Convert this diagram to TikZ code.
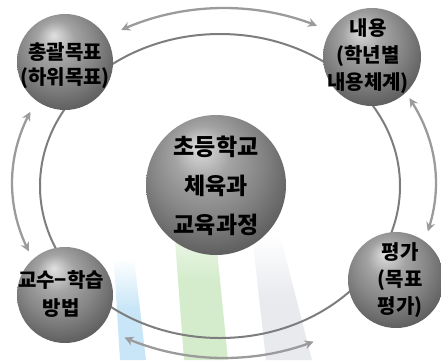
\documentclass[tikz,border=0pt]{standalone}
\usepackage{fontspec}
\setmainfont{Noto Sans CJK KR}
\usetikzlibrary{arrows.meta}
\definecolor{arrgray}{RGB}{155,155,155}
\definecolor{ringgray}{RGB}{125,125,125}
\definecolor{wblue}{RGB}{200,230,247}
\definecolor{wgreen}{RGB}{212,236,203}
\definecolor{wgray}{RGB}{232,234,238}
\pgfdeclareradialshading{softball}{\pgfpoint{-6bp}{14bp}}{%
  color(0bp)=(black!12); color(10bp)=(black!36); color(20bp)=(black!48);
  color(30bp)=(black!62); color(40bp)=(black!72); color(50bp)=(black!72)}
\begin{document}
\begin{tikzpicture}[x=1pt,y=-1pt,
  ball/.style={circle, shading=softball, inner sep=0pt, minimum size=#1},
  lbl/.style={font=\fontsize{20}{#1}\selectfont\bfseries, align=center, text=black, inner sep=0pt},
  ring/.style={draw=ringgray, line width=2pt},
  arr/.style={draw=arrgray, line width=2.3pt, {Stealth[length=9pt,width=9pt]}-{Stealth[length=9pt,width=9pt]}}
]
\useasboundingbox (0,0) rectangle (441,360);
% faint background stripes
\shade[top color=white, bottom color=wblue, middle color=wblue] (114,262) -- (134,258) -- (146,360) -- (120,360) -- cycle;
\shade[top color=white, bottom color=wgreen, middle color=wgreen] (172,200) -- (212,200) -- (228,360) -- (184,360) -- cycle;
\shade[top color=white, bottom color=wgray, middle color=wgray] (252,235) -- (280,235) -- (312,360) -- (266,360) -- cycle;
% inner ring
\draw[ring] (220,186) ellipse [x radius=180pt, y radius=152pt];
% outer double arrows
\draw[arr] plot[domain=-119:-64, samples=40, smooth] ({224+212*cos(\x)},{183+175*sin(\x)});
\draw[arr] plot[domain=157:204, samples=40, smooth] ({224+212*cos(\x)},{183+175*sin(\x)});
\draw[arr] plot[domain=-29:16, samples=40, smooth] ({224+212*cos(\x)},{183+175*sin(\x)});
\draw[arr] plot[domain=65:118, samples=40, smooth] ({224+212*cos(\x)},{183+175*sin(\x)});
% spheres
\node[ball=96pt] (tl) at (65,62) {};
\node[ball=98pt] (tr) at (372,57) {};
\node[ball=140pt] (c) at (216,185) {};
\node[ball=96pt] (bl) at (65,295) {};
\node[ball=96pt] (br) at (396,280) {};
% labels
\node[lbl=25] (tlt) at (65,66) {총괄목표\\(하위목표)};
\node[lbl=27] (trt) at (368,56) {내용\\(학년별\\내용체계)};
\node[font=\fontsize{23}{39}\selectfont\bfseries, align=center, inner sep=0pt] (ct) at (216,186) {초등학교\\체육과\\교육과정};
\node[lbl=28] (blt) at (61,294) {교수−학습\\방법};
\node[lbl=27] (brt) at (400,280) {평가\\(목표\\평가)};
\end{tikzpicture}
\end{document}
